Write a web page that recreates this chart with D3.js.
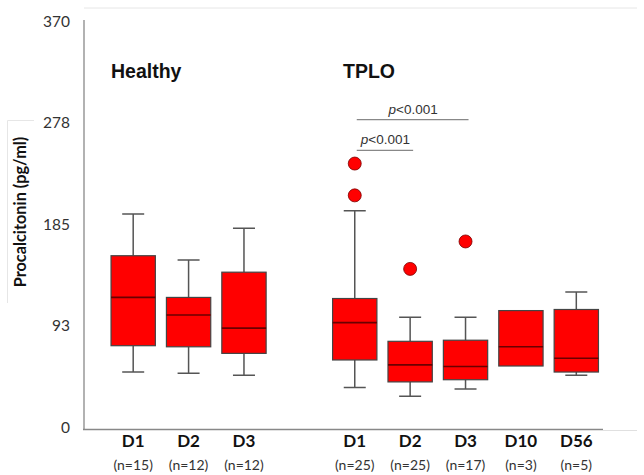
<!DOCTYPE html>
<html>
<head>
<meta charset="utf-8">
<script src="https://cdn.jsdelivr.net/npm/d3@7"></script>
<style>
  body { margin: 0; background: #fff; }
  svg { display: block; }
</style>
</head>
<body>
<div id="plot"></div>
<script>
// box plot stats (pg/ml)
const days = ["D1", "D2", "D3", "D1", "D2", "D3", "D10", "D56"];
const nLabels = ["(n=15)", "(n=12)", "(n=12)", "(n=25)", "(n=25)", "(n=17)", "(n=3)", "(n=5)"];
const slots = [0, 1, 2, 4, 5, 6, 7, 8]; // slot 3 is the gap between groups
const whiskerLow = [51, 50, 48, 37, 29, 35.5, 56.5, 48];
const q1 = [75, 74, 68, 62, 42, 44, 56.5, 51];
const median = [119, 103, 91, 96, 57.5, 56, 74, 63.5];
const q3 = [157, 119, 142, 118, 79, 80, 107, 108];
const whiskerHigh = [195, 153, 182, 198, 101, 101, 107, 124];
const outliers = [[], [], [], [241, 212], [145], [170], [], []];
const yTicks = [0, 93, 185, 278, 370];
const groupTitles = ["Healthy", "TPLO"];
const brackets = [
    { from: 3, to: 5, y: 281, label: "<0.001" },
    { from: 3, to: 4, y: 253, label: "<0.001" }
];

const width = 644;
const height = 475;
const axisX = 84;
const calibri = "Lato, 'Open Sans', sans-serif";

const svg = d3.select("#plot").append("svg")
    .attr("width", width)
    .attr("height", height);

const y = d3.scaleLinear().domain([0, 370]).range([428, 22]);
const x = d3.scaleBand()
    .domain(d3.range(9))
    .range([105.5, 604])
    .paddingInner(0.2)
    .paddingOuter(0.1);
const bw = x.bandwidth();
const cx = i => x(slots[i]) + bw / 2;
const idx = d3.range(days.length);

// faint frame lines
svg.append("line")
    .attr("x1", axisX).attr("x2", 637).attr("y1", 8).attr("y2", 8)
    .attr("stroke", "#e6e6e6").attr("stroke-width", 1);
svg.append("line")
    .attr("x1", 603).attr("x2", 637).attr("y1", 430.5).attr("y2", 430.5)
    .attr("stroke", "#e0e0e0").attr("stroke-width", 1);
// y label box
svg.append("path")
    .attr("d", "M34,120.5 H7.5 V303")
    .attr("fill", "none")
    .attr("stroke", "#e6e6e6");

// y axis
const yAxis = svg.append("g")
    .attr("transform", `translate(${axisX},0)`)
    .call(d3.axisLeft(y).tickValues(yTicks).tickSize(0).tickPadding(14));
yAxis.select(".domain").attr("stroke", "#999").attr("stroke-width", 1.5)
    .attr("d", `M0,20V430`);
yAxis.selectAll("text")
    .attr("font-family", calibri)
    .attr("font-size", 15.5)
    .attr("fill", "#333");

// x axis line
svg.append("line")
    .attr("x1", axisX - 1).attr("x2", 603)
    .attr("y1", 429.5).attr("y2", 429.5)
    .attr("stroke", "#888").attr("stroke-width", 1.5);

svg.append("text")
    .attr("transform", "translate(26,212) rotate(-90)")
    .attr("text-anchor", "middle")
    .attr("font-family", calibri)
    .attr("font-weight", "bold")
    .attr("font-size", 16.3)
    .attr("fill", "#111")
    .text("Procalcitonin (pg/ml)");

// group titles
svg.append("g")
    .attr("font-family", "'Liberation Sans', Arial, sans-serif")
    .attr("font-weight", "bold")
    .attr("font-size", 19.5)
    .attr("fill", "#111")
    .selectAll("text")
    .data(groupTitles)
    .join("text")
    .attr("x", (d, i) => i === 0 ? 111 : 343)
    .attr("y", 78)
    .text(d => d);

const boxes = svg.append("g")
    .selectAll("g")
    .data(idx)
    .join("g");

// whiskers
boxes.filter(i => whiskerHigh[i] > q3[i])
    .append("path")
    .attr("fill", "none")
    .attr("stroke", "#555")
    .attr("stroke-width", 1.5)
    .attr("d", i => `M${cx(i)},${y(q3[i])}V${y(whiskerHigh[i])}M${cx(i) - 11},${y(whiskerHigh[i])}H${cx(i) + 11}`);
boxes.filter(i => whiskerLow[i] < q1[i])
    .append("path")
    .attr("fill", "none")
    .attr("stroke", "#555")
    .attr("stroke-width", 1.5)
    .attr("d", i => `M${cx(i)},${y(q1[i])}V${y(whiskerLow[i])}M${cx(i) - 11},${y(whiskerLow[i])}H${cx(i) + 11}`);

boxes.append("rect")
    .attr("x", i => x(slots[i]))
    .attr("y", i => y(q3[i]))
    .attr("width", bw)
    .attr("height", i => y(q1[i]) - y(q3[i]))
    .attr("fill", "#ff0000")
    .attr("stroke", "#444")
    .attr("stroke-width", 1.2);

boxes.append("line")
    .attr("x1", i => x(slots[i]))
    .attr("x2", i => x(slots[i]) + bw)
    .attr("y1", i => y(median[i]))
    .attr("y2", i => y(median[i]))
    .attr("stroke", "#6a0000")
    .attr("stroke-width", 1.6);

boxes.selectAll("circle")
    .data(i => outliers[i].map(v => ({ i, v })))
    .join("circle")
    .attr("cx", o => cx(o.i))
    .attr("cy", o => y(o.v))
    .attr("r", 6.5)
    .attr("fill", "#ff0000")
    .attr("stroke", "#7a0000")
    .attr("stroke-width", 0.8);

// x labels
svg.append("g")
    .attr("font-family", calibri)
    .attr("font-weight", "bold")
    .attr("font-size", 17)
    .attr("fill", "#111")
    .attr("text-anchor", "middle")
    .selectAll("text")
    .data(days)
    .join("text")
    .attr("x", (d, i) => cx(i))
    .attr("y", 447)
    .text(d => d);

svg.append("g")
    .attr("font-family", calibri)
    .attr("font-size", 14)
    .attr("fill", "#333")
    .attr("text-anchor", "middle")
    .selectAll("text")
    .data(nLabels)
    .join("text")
    .attr("x", (d, i) => cx(i))
    .attr("y", 470)
    .text(d => d);

// significance brackets
const sig = svg.append("g")
    .selectAll("g")
    .data(brackets)
    .join("g");
sig.append("line")
    .attr("x1", b => cx(b.from) + 2)
    .attr("x2", b => cx(b.to) + 3)
    .attr("y1", b => y(b.y))
    .attr("y2", b => y(b.y))
    .attr("stroke", "#888")
    .attr("stroke-width", 1.2);
const st = sig.append("text")
    .attr("x", b => (cx(b.from) + cx(b.to)) / 2 + 3)
    .attr("y", b => y(b.y) - 6)
    .attr("text-anchor", "middle")
    .attr("font-family", "'Liberation Sans', Arial, sans-serif")
    .attr("font-size", 13.5)
    .attr("fill", "#333");
st.append("tspan").attr("font-style", "italic").text("p");
st.append("tspan").text(b => b.label);
</script>
</body>
</html>
